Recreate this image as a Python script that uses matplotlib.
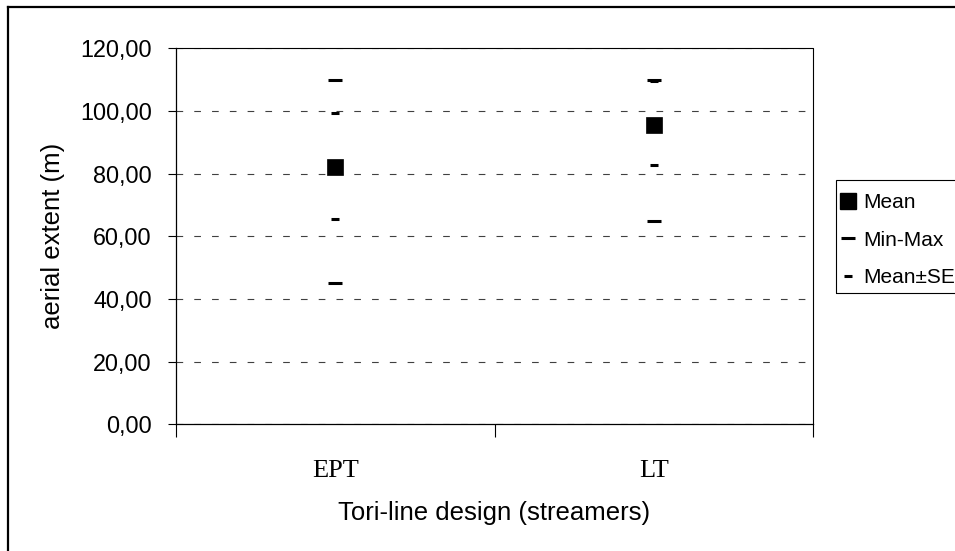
import matplotlib
matplotlib.use("Agg")
import matplotlib.pyplot as plt
from matplotlib.lines import Line2D
from matplotlib.patches import Rectangle
from matplotlib.ticker import FixedLocator, FuncFormatter

# values
designs = ["EPT", "LT"]
mean_vals = [82.2, 95.5]
min_vals = [45.2, 64.9]
max_vals = [110.0, 110.0]
se_low = [65.5, 82.8]
se_high = [99.4, 109.6]
y_ticks = [0, 20, 40, 60, 80, 100, 120]

plt.rcParams["font.family"] = ["Liberation Sans", "DejaVu Sans"]
plt.rcParams["lines.scale_dashes"] = False

W, H = 955, 551
fig = plt.figure(figsize=(W / 100, H / 100), dpi=100)
ax = fig.add_axes([176 / W, 1 - 424.3 / H, (813 - 176) / W, (424.3 - 48.3) / H])

xs = [i + 0.5 for i in range(len(designs))]

# Min-Max dashes
ax.plot(xs, min_vals, ls="none", marker="_", ms=10, mew=2.2, color="black", zorder=3)
ax.plot(xs, max_vals, ls="none", marker="_", ms=10, mew=2.2, color="black", zorder=3)
# Mean +/- SE dashes
ax.plot(xs, se_low, ls="none", marker="_", ms=5.5, mew=2.2, color="black", zorder=4)
ax.plot(xs, se_high, ls="none", marker="_", ms=5.5, mew=2.2, color="black", zorder=4)
# Mean squares
ax.plot(xs, mean_vals, ls="none", marker="s", ms=12.2, mew=0.5, color="black", zorder=5)

ax.set_xlim(0, len(designs))
ax.set_ylim(0, 120)

ax.yaxis.set_major_locator(FixedLocator(y_ticks))
ax.yaxis.set_major_formatter(FuncFormatter(lambda v, p: f"{v:.2f}".replace(".", ",")))
ax.tick_params(axis="y", direction="out", length=6, width=0.8, labelsize=16.8, pad=11.5)
ax.grid(axis="y", color="#404040", lw=0.8, linestyle=(0, (4.8, 8)))
ax.set_axisbelow(True)

# category separators as major ticks, labels on minor
ax.set_xticks(range(len(designs) + 1))
ax.set_xticklabels([])
ax.set_xticks(xs, minor=True)
ax.set_xticklabels(designs, minor=True, family=["Liberation Serif", "DejaVu Serif"], fontsize=19)
ax.tick_params(axis="x", which="major", direction="out", length=9, width=0.8)
ax.tick_params(axis="x", which="minor", length=0, pad=26)

ax.spines["top"].set_visible(False)
ax.spines["right"].set_visible(False)
ax.spines["left"].set_linewidth(0.9)
ax.spines["bottom"].set_linewidth(0.9)
# thin frame on top/right of the plot area
ax.plot([0, 2, 2], [120, 120, 0], color="black", lw=0.8, clip_on=False, zorder=1)

ax.set_xlabel("Tori-line design (streamers)", fontsize=18.5)
ax.set_ylabel("aerial extent (m)", fontsize=18.5)
ax.xaxis.set_label_coords(0.5, -(501 - 424.3) / 376)
ax.yaxis.set_label_coords(-(176 - 65) / 637, 0.5)

# legend
handles = [
    Line2D([], [], ls="none", marker="s", ms=12, color="black"),
    Line2D([], [], ls="none", marker="_", ms=10, mew=2.2, color="black"),
    Line2D([], [], ls="none", marker="_", ms=5.5, mew=2.2, color="black"),
]
fig.legend(handles, ["Mean", "Min-Max", "Mean±SE"], loc="upper left",
           bbox_to_anchor=(838 / W, 1 - 193 / H), frameon=False, fontsize=15,
           handlelength=1.0, handletextpad=0.2, labelspacing=0.9, borderpad=0,
           borderaxespad=0)
fig.patches.append(Rectangle((835.7 / W, 1 - 293 / H), 0.3, (293 - 180) / H,
                             transform=fig.transFigure, fill=False, ec="black", lw=0.8))

# outer chart border (left and top visible)
fig.add_artist(Line2D([8 / W, 8 / W], [0, 1 - 7 / H], transform=fig.transFigure, color="black", lw=1.6))
fig.add_artist(Line2D([8 / W, 1], [1 - 7 / H, 1 - 7 / H], transform=fig.transFigure, color="black", lw=1.6))

fig.savefig("out.png", dpi=100, facecolor="white")
